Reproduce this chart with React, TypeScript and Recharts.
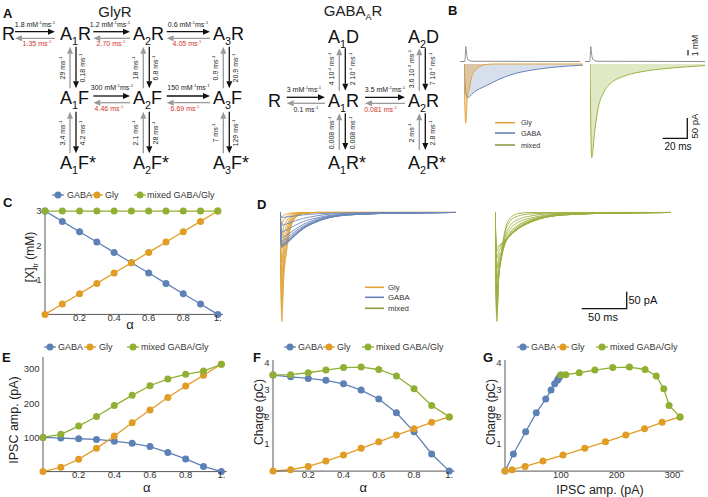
import React from 'react';
import { LineChart, Line, XAxis, YAxis, AreaChart, Area, ScatterChart, Scatter } from 'recharts';

const FONT = '"Liberation Sans", Arial, Helvetica, sans-serif';
const GABA = '#5E81B5';
const GLY = '#E19C24';
const MIX = '#8FB032';
const AXIS = '#555';
const RED = '#d0342c';

// alpha grid shared by C, E, F
const alpha = [0, 0.1, 0.2, 0.3, 0.4, 0.5, 0.6, 0.7, 0.8, 0.9, 1];

// C: transmitter concentration [X]tr (mM)
const concGaba = [3, 2.7, 2.4, 2.1, 1.8, 1.5, 1.2, 0.9, 0.6, 0.3, 0];
const concGly = [0, 0.3, 0.6, 0.9, 1.2, 1.5, 1.8, 2.1, 2.4, 2.7, 3];
const concMixed = [3, 3, 3, 3, 3, 3, 3, 3, 3, 3, 3];

// E: IPSC amplitude (pA)
const ampGaba = [100, 98, 96, 94, 89, 82.5, 73, 56, 37, 15, 0];
const ampGly = [0, 12.6, 36, 68, 104, 143, 180, 216.5, 250, 281.5, 313.6];
const ampMixed = [100, 109, 133, 161, 193, 223, 251, 271, 284.5, 294, 313.6];

// F: charge (pC)
const chargeGaba = [3.545, 3.48, 3.42, 3.35, 3.22, 2.99, 2.66, 2.15, 1.45, 0.63, 0];
const chargeGly = [0, 0.05, 0.17, 0.37, 0.59, 0.84, 1.08, 1.33, 1.56, 1.8, 2.0];
const chargeMixed = [3.545, 3.56, 3.63, 3.73, 3.82, 3.84, 3.75, 3.51, 3.04, 2.42, 2.0];

// B: example currents (ms, pA) and transmitter transient (mM)
const tB = [0, 1.4, 2.8, 4.75, 6.1, 8.9, 13, 18.7, 28, 40, 55, 75, 99];
const glyB = [0, -148, -85, -57, -35, -18, -7, -1, 0, 0, 0, 0, 0];
const gabaB = [0, -68, -85, -81, -77, -69, -62, -54, -40, -26, -16, -8, -3];
const tBmix = [0, 1.4, 4.2, 6.9, 11, 16.7, 27.8, 41.7, 61, 80.6, 96];
const mixedB = [0, -234, -161, -109, -73, -50, -31, -20, -12, -7, -4];
const tConc = [-4, 0, 0.4, 0.8, 1.2, 1.8, 3, 6, 96];
const concTrace = [0, 0, 1.2, 3.0, 2.2, 1.0, 0.3, 0.05, 0];

// D: currents for alpha = 0..1 (ms, pA)
const tD = [0, 2, 4, 7, 11, 17, 26, 40, 60, 90, 130, 195];
const gabaD = [
  [0, -100, -96, -90, -81, -66, -47, -28, -12, -5, -2, 0],
  [0, -98, -94, -88, -79, -65, -46, -27, -12, -5, -2, 0],
  [0, -96, -92, -86, -78, -63, -45, -27, -12, -5, -2, 0],
  [0, -94, -90, -85, -76, -62, -44, -26, -11, -5, -2, 0],
  [0, -89, -85, -80, -72, -59, -42, -25, -11, -4, -2, 0],
  [0, -82, -79, -74, -66, -54, -39, -23, -10, -4, -2, 0],
  [0, -73, -70, -66, -59, -48, -34, -20, -9, -4, -1, 0],
  [0, -56, -54, -50, -45, -37, -26, -16, -7, -3, -1, 0],
  [0, -37, -36, -33, -30, -24, -17, -10, -4, -2, -1, 0],
  [0, -15, -14, -13, -12, -10, -7, -4, -2, -1, 0, 0],
];
const glyD = [
  [0, -13, -8, -5, -2, -1, 0, 0, 0, 0, 0, 0],
  [0, -36, -22, -14, -6, -2, 0, 0, 0, 0, 0, 0],
  [0, -68, -42, -26, -12, -3, -1, 0, 0, 0, 0, 0],
  [0, -104, -64, -40, -18, -5, -1, 0, 0, 0, 0, 0],
  [0, -143, -89, -54, -24, -7, -1, 0, 0, 0, 0, 0],
  [0, -180, -112, -68, -31, -9, -2, 0, 0, 0, 0, 0],
  [0, -216, -134, -82, -37, -11, -2, 0, 0, 0, 0, 0],
  [0, -250, -155, -95, -43, -13, -3, 0, 0, 0, 0, 0],
  [0, -281, -174, -107, -48, -14, -3, 0, 0, 0, 0, 0],
  [0, -314, -195, -119, -53, -16, -3, 0, 0, 0, 0, 0],
];
const mixedD = [
  [0, -100, -96, -90, -81, -66, -47, -28, -12, -5, -2, 0],
  [0, -111, -102, -93, -81, -66, -46, -27, -12, -5, -2, 0],
  [0, -132, -114, -100, -84, -65, -45, -27, -12, -5, -2, 0],
  [0, -162, -132, -111, -88, -65, -45, -26, -11, -5, -2, 0],
  [0, -193, -149, -120, -90, -64, -43, -25, -11, -4, -2, 0],
  [0, -225, -168, -128, -90, -61, -40, -23, -10, -4, -2, 0],
  [0, -253, -182, -134, -90, -57, -36, -20, -9, -4, -1, 0],
  [0, -272, -188, -132, -82, -48, -28, -16, -7, -3, -1, 0],
  [0, -287, -191, -128, -73, -37, -20, -10, -4, -2, -1, 0],
  [0, -296, -188, -120, -60, -24, -10, -4, -2, -1, 0, 0],
  [0, -314, -195, -119, -53, -16, -3, 0, 0, 0, 0, 0],
];

const tickStyle = { fontSize: 9.5, fill: '#333', fontFamily: FONT };
const fmtAlpha = (v: number) => (v === 1 ? '1.' : String(v));

const Abs = ({ left, top, children }: any) => (
  <div style={{ position: 'absolute', left, top }}>{children}</div>
);

const dotOf = (c: string) => ({ r: 3.5, fill: c, stroke: c, strokeWidth: 0 });

// plot area given in page px; axes sit in the margins
function AlphaPlot({ left, top, plotW, plotH, xMax, yMax, yTicks, gaba, gly, mixed }: any) {
  const rows = alpha.map((a, i) => ({ a, gaba: gaba[i], gly: gly[i], mixed: mixed[i] }));
  const yw = 40, xh = 16, mt = 6, mr = 8;
  return (
    <Abs left={left - yw} top={top - mt}>
      <LineChart width={yw + plotW + mr} height={mt + plotH + xh} data={rows} margin={{ top: mt, right: mr, left: 0, bottom: 0 }}>
        <XAxis dataKey="a" type="number" domain={[0, xMax]} ticks={[0.2, 0.4, 0.6, 0.8, 1]} interval={0}
          tickFormatter={fmtAlpha} height={xh} tickLine={false} tickSize={0} tickMargin={0} stroke={AXIS} tick={tickStyle} />
        <YAxis type="number" domain={[0, yMax]} ticks={yTicks} interval={0} width={yw}
          tickLine={false} tickSize={2} tickMargin={1.5} stroke={AXIS} tick={tickStyle} />
        <Line dataKey="gaba" stroke={GABA} strokeWidth={1.3} dot={dotOf(GABA)} isAnimationActive={false} />
        <Line dataKey="gly" stroke={GLY} strokeWidth={1.3} dot={dotOf(GLY)} isAnimationActive={false} />
        <Line dataKey="mixed" stroke={MIX} strokeWidth={1.3} dot={dotOf(MIX)} isAnimationActive={false} />
      </LineChart>
    </Abs>
  );
}

function ChargeVsAmp() {
  const pts = (xs: number[], ys: number[]) => xs.map((x, i) => ({ x, y: ys[i] }));
  const yw = 40, xh = 16, mt = 6, mr = 8;
  const left = 504.9, top = 359.9, plotW = 178.6, plotH = 111.1;
  const shape = (c: string) => (p: any) => <circle cx={p.cx} cy={p.cy} r={3.5} fill={c} />;
  return (
    <Abs left={left - yw} top={top - mt}>
      <ScatterChart width={yw + plotW + mr} height={mt + plotH + xh} margin={{ top: mt, right: mr, left: 0, bottom: 0 }}>
        <XAxis dataKey="x" type="number" domain={[0, 320]} ticks={[100, 200, 300]} interval={0} height={xh}
          tickLine={false} tickSize={0} tickMargin={0} stroke={AXIS} tick={tickStyle} />
        <YAxis dataKey="y" type="number" domain={[0, 4.1]} ticks={[1, 2, 3, 4]} interval={0} width={yw}
          tickLine={false} tickSize={2} tickMargin={1.5} stroke={AXIS} tick={tickStyle} />
        <Scatter data={pts(ampGaba, chargeGaba)} fill={GABA} line={{ stroke: GABA, strokeWidth: 1.3 }} shape={shape(GABA)} isAnimationActive={false} />
        <Scatter data={pts(ampGly, chargeGly)} fill={GLY} line={{ stroke: GLY, strokeWidth: 1.3 }} shape={shape(GLY)} isAnimationActive={false} />
        <Scatter data={pts(ampMixed, chargeMixed)} fill={MIX} line={{ stroke: MIX, strokeWidth: 1.3 }} shape={shape(MIX)} isAnimationActive={false} />
      </ScatterChart>
    </Abs>
  );
}

// B: 1.2 px/ms, 0.4 px/pA, baseline at y=64.3
function TracesB() {
  const rowsL = tB.map((t, i) => ({ t, gly: glyB[i], gaba: gabaB[i] }));
  const rowsR = tBmix.map((t, i) => ({ t, mixed: mixedB[i] }));
  const rowsC = tConc.map((t, i) => ({ t, c: concTrace[i] }));
  const conc = (left: number) => (
    <Abs left={left} top={44.2}>
      <LineChart width={120} height={17.5} data={rowsC} margin={{ top: 0, right: 0, left: 0, bottom: 0 }}>
        <XAxis dataKey="t" type="number" domain={[-4, 96]} hide />
        <YAxis type="number" domain={[0, 3.5]} hide />
        <Line dataKey="c" type="monotone" stroke="#8c8c8c" strokeWidth={1} dot={false} isAnimationActive={false} />
      </LineChart>
    </Abs>
  );
  return (
    <>
      {conc(459.5)}
      {conc(585.2)}
      <Abs left={464.3} top={56.3}>
        <AreaChart width={118.8} height={108} data={rowsL} margin={{ top: 0, right: 0, left: 0, bottom: 0 }}>
          <XAxis dataKey="t" type="number" domain={[0, 99]} hide />
          <YAxis type="number" domain={[-250, 20]} hide />
          <Area dataKey="gaba" type="monotone" baseValue={0} stroke="#6883ba" strokeWidth={1} fill={GABA} fillOpacity={0.25} isAnimationActive={false} />
          <Area dataKey="gly" type="monotone" baseValue={0} stroke="#e0a33a" strokeWidth={1} fill={GLY} fillOpacity={0.35} isAnimationActive={false} />
        </AreaChart>
      </Abs>
      <Abs left={590} top={56.3}>
        <AreaChart width={115.2} height={108} data={rowsR} margin={{ top: 0, right: 0, left: 0, bottom: 0 }}>
          <XAxis dataKey="t" type="number" domain={[0, 96]} hide />
          <YAxis type="number" domain={[-250, 20]} hide />
          <Area dataKey="mixed" type="monotone" baseValue={0} stroke="#9bb040" strokeWidth={1} fill={MIX} fillOpacity={0.28} isAnimationActive={false} />
        </AreaChart>
      </Abs>
    </>
  );
}

// D: 0.9 px/ms, 0.347 px/pA, baseline at y=212.7
function TracesD() {
  const rows = tD.map((t, i) => {
    const r: Record<string, number> = { t };
    gabaD.forEach((s, k) => (r['g' + k] = s[i]));
    glyD.forEach((s, k) => (r['y' + k] = s[i]));
    mixedD.forEach((s, k) => (r['m' + k] = s[i]));
    return r;
  });
  const frame = (left: number, lines: React.ReactNode) => (
    <Abs left={left} top={209.2}>
      <LineChart width={175.5} height={114.5} data={rows} margin={{ top: 0, right: 0, left: 0, bottom: 0 }}>
        <XAxis dataKey="t" type="number" domain={[0, 195]} hide />
        <YAxis type="number" domain={[-320, 10]} hide />
        {lines}
      </LineChart>
    </Abs>
  );
  return (
    <>
      {frame(280, [
        ...glyD.map((_, k) => <Line key={'y' + k} dataKey={'y' + k} type="monotone" stroke="#e0a33a" strokeWidth={0.9} dot={false} isAnimationActive={false} />),
        ...gabaD.map((_, k) => <Line key={'g' + k} dataKey={'g' + k} type="monotone" stroke="#6b87ba" strokeWidth={0.9} dot={false} isAnimationActive={false} />),
      ])}
      {frame(495, mixedD.map((_, k) => <Line key={'m' + k} dataKey={'m' + k} type="monotone" stroke="#9bb040" strokeWidth={0.9} dot={false} isAnimationActive={false} />))}
    </>
  );
}

// text with ^{sup} and _{sub} markup
function Rich({ x, y, text, size, color = '#222', anchor = 'middle', rot, weight }: any) {
  const segs = text.split(/(\^\{[^}]*\}|_\{[^}]*\})/).filter(Boolean);
  let cur = 0;
  const spans = segs.map((s: string, i: number) => {
    let off = 0, fs = size, body = s;
    if (s.startsWith('^{')) { off = -size * 0.42; fs = size * 0.62; body = s.slice(2, -1); }
    else if (s.startsWith('_{')) { off = size * 0.28; fs = size * 0.6; body = s.slice(2, -1); }
    const dy = off - cur;
    cur = off;
    return <tspan key={i} dy={dy} fontSize={fs}>{body}</tspan>;
  });
  if (rot) {
    return (
      <text x={x} y={y + size * 0.36} textAnchor="middle" fill={color} fontSize={size} fontWeight={weight}
        transform={`rotate(-90 ${x} ${y})`}>{spans}</text>
    );
  }
  return <text x={x} y={y} textAnchor={anchor} fill={color} fontSize={size} fontWeight={weight}>{spans}</text>;
}

function Arrow({ x1, y1, x2, y2, color }: any) {
  const dx = x2 - x1, dy = y2 - y1, L = Math.hypot(dx, dy);
  const ux = dx / L, uy = dy / L, hl = 7, hw = 3;
  const bx = x2 - ux * hl, by = y2 - uy * hl;
  return (
    <g>
      <line x1={x1} y1={y1} x2={bx} y2={by} stroke={color} strokeWidth={1.3} />
      <polygon points={`${x2},${y2} ${bx - uy * hw},${by + ux * hw} ${bx + uy * hw},${by - ux * hw}`} fill={color} />
    </g>
  );
}

const hPair = (xa: number, xb: number, yBlack: number, yGray: number, k: string) => (
  <g key={k}>
    <Arrow x1={xa} y1={yBlack} x2={xb} y2={yBlack} color="#111" />
    <Arrow x1={xb} y1={yGray} x2={xa} y2={yGray} color="#999" />
  </g>
);
const vPair = (xg: number, xb: number, ya: number, yb: number, k: string) => (
  <g key={k}>
    <Arrow x1={xg} y1={yb} x2={xg} y2={ya} color="#999" />
    <Arrow x1={xb} y1={ya} x2={xb} y2={yb} color="#111" />
  </g>
);

const glyStates = [
  [2, 40, 'R'], [60, 40, 'A_{1}R'], [133, 40, 'A_{2}R'], [213, 40, 'A_{3}R'],
  [60, 104, 'A_{1}F'], [133, 104, 'A_{2}F'], [213, 104, 'A_{3}F'],
  [60, 169, 'A_{1}F*'], [133, 169, 'A_{2}F*'], [213, 169, 'A_{3}F*'],
];
const gabaStates = [
  [328, 42.5, 'A_{1}D'], [408, 42.5, 'A_{2}D'],
  [268, 106.5, 'R'], [328, 106.5, 'A_{1}R'], [408, 106.5, 'A_{2}R'],
  [328, 168.5, 'A_{1}R*'], [408, 168.5, 'A_{2}R*'],
];
const hRates = [
  [35, 26.5, '1.8 mM^{-1}ms^{-1}', '#222'], [110, 26.5, '1.2 mM^{-1}ms^{-1}', '#222'], [188, 26.5, '0.6 mM^{-1}ms^{-1}', '#222'],
  [37, 45.5, '1.35 ms^{-1}', RED], [111, 45.5, '2.70 ms^{-1}', RED], [187, 45.5, '4.05 ms^{-1}', RED],
  [112, 90, '300 mM^{-1}ms^{-1}', '#222'], [188.5, 90, '150 mM^{-1}ms^{-1}', '#222'],
  [109, 111, '4.46 ms^{-1}', RED], [185, 111, '6.69 ms^{-1}', RED],
  [304, 91.7, '3 mM^{-1}ms^{-1}', '#222'], [385, 91.7, '3.5 mM^{-1}ms^{-1}', '#222'],
  [306, 112.3, '0.1 ms^{-1}', '#222'], [380.5, 112.3, '0.081 ms^{-1}', RED],
];
const vRates = [
  [62, 68, '29 ms^{-1}'], [82.5, 68, '0.18 ms^{-1}'], [135.3, 68, '18 ms^{-1}'], [155.8, 68, '6.8 ms^{-1}'],
  [215.3, 68, '0.9 ms^{-1}'], [235.8, 68, '20.9 ms^{-1}'],
  [62, 133, '3.4 ms^{-1}'], [82.5, 133, '4.2 ms^{-1}'], [135.3, 133, '2.1 ms^{-1}'], [155.8, 133, '28 ms^{-1}'],
  [215.3, 133, '7 ms^{-1}'], [235.8, 133, '129 ms^{-1}'],
  [331.8, 69, '4 10^{-4} ms^{-1}'], [352.8, 69, '2 10^{-4} ms^{-1}'], [411.8, 69, '3.6 10^{-3} ms^{-1}'], [432.8, 69, '7 10^{-4} ms^{-1}'],
  [331.8, 133, '0.008 ms^{-1}'], [352.8, 133, '0.008 ms^{-1}'], [411.8, 133, '2 ms^{-1}'], [432.8, 133, '2.8 ms^{-1}'],
];

const seriesNames = ['GABA', 'Gly', 'mixed GABA/Gly'];
const seriesColors = [GABA, GLY, MIX];

function MarkerLegend({ y, marks, texts }: any) {
  return (
    <g>
      {marks.map((m: number, i: number) => (
        <g key={i}>
          <line x1={m - 6} x2={m + 6} y1={y} y2={y} stroke={seriesColors[i]} strokeWidth={1.3} />
          <circle cx={m} cy={y} r={3.5} fill={seriesColors[i]} />
          <text x={texts[i]} y={y + 3.2} fontSize={9} fill="#333">{seriesNames[i]}</text>
        </g>
      ))}
    </g>
  );
}

const traceNames = ['Gly', 'GABA', 'mixed'];
const traceColors = ['#e0a33a', '#6883ba', '#8c9c45'];

function TraceLegend({ x1, x2, tx, ys, size }: any) {
  return (
    <g>
      {ys.map((y: number, i: number) => (
        <g key={i}>
          <line x1={x1} x2={x2} y1={y} y2={y} stroke={traceColors[i]} strokeWidth={1.6} />
          <text x={tx} y={y + size * 0.36} fontSize={size} fill="#333">{traceNames[i]}</text>
        </g>
      ))}
    </g>
  );
}

function Overlay() {
  return (
    <svg width={708} height={497} style={{ position: 'absolute', left: 0, top: 0, pointerEvents: 'none', fontFamily: FONT }}>
      {/* panel letters */}
      {[['A', 3, 17.5], ['B', 448, 15], ['C', 3, 206.5], ['D', 257, 209], ['E', 2, 361.5], ['F', 253, 361.5], ['G', 483, 361.5]].map(([l, x, y]: any) => (
        <text key={l} x={x} y={y} fontSize={13} fontWeight="bold" fill="#111">{l}</text>
      ))}

      {/* A: kinetic schemes */}
      <Rich x={115} y={17} text="GlyR" size={15} />
      <Rich x={353} y={16} text="GABA_{A}R" size={15} />
      {glyStates.concat(gabaStates).map(([x, y, t]: any, i: number) => (
        <Rich key={'s' + i} x={x} y={y} text={t} size={18} anchor="start" color="#111" />
      ))}
      {hPair(15, 55, 31.7, 38.3, 'h1')}
      {hPair(93.3, 130, 31.7, 38.3, 'h2')}
      {hPair(166.7, 210, 31.7, 38.3, 'h3')}
      {hPair(93.3, 130, 96, 102.7, 'h4')}
      {hPair(166.7, 210, 96, 102.7, 'h5')}
      {hPair(286.7, 325, 97.3, 103.3, 'h6')}
      {hPair(365, 405, 97.3, 103.3, 'h7')}
      {vPair(70, 76, 46.7, 88.3, 'v1')}
      {vPair(143.3, 149.3, 46.7, 88.3, 'v2')}
      {vPair(223.3, 229.3, 46.7, 88.3, 'v3')}
      {vPair(70, 76, 111.7, 153.3, 'v4')}
      {vPair(143.3, 149.3, 111.7, 153.3, 'v5')}
      {vPair(223.3, 229.3, 111.7, 153.3, 'v6')}
      {vPair(339.3, 345.3, 48.3, 90.7, 'v7')}
      {vPair(419.3, 425.3, 48.3, 90.7, 'v8')}
      {vPair(339.3, 345.3, 113.3, 150, 'v9')}
      {vPair(419.3, 425.3, 113.3, 150, 'v10')}
      {hRates.map(([x, y, t, c]: any, i: number) => <Rich key={'hr' + i} x={x} y={y} text={t} size={7} color={c} />)}
      {vRates.map(([x, y, t]: any, i: number) => <Rich key={'vr' + i} x={x} y={y} text={t} size={7} rot />)}

      {/* B: legend and scale bars */}
      <TraceLegend x1={495} x2={515} tx={521} ys={[122.7, 133, 145]} size={7.2} />
      <line x1={688} x2={688} y1={50} y2={55.5} stroke="#111" strokeWidth={1.2} />
      <Rich x={695} y={45.5} text="1 mM" size={8.5} rot />
      <polyline points="662.7,138.3 687.3,138.3 687.3,118" fill="none" stroke="#111" strokeWidth={1.3} />
      <Rich x={694.5} y={126} text="50 pA" size={9.5} rot />
      <text x={678} y={149.5} fontSize={10} textAnchor="middle" fill="#111">20 ms</text>

      {/* D: legend and scale bars */}
      <TraceLegend x1={365} x2={384} tx={388} ys={[287.3, 297.3, 308.3]} size={7.8} />
      <polyline points="581.7,308.6 626.7,308.6 626.7,291.7" fill="none" stroke="#111" strokeWidth={1.3} />
      <text x={628.5} y={304} fontSize={11} fill="#111">50 pA</text>
      <text x={603} y={320.5} fontSize={11} textAnchor="middle" fill="#111">50 ms</text>

      {/* C, E, F, G legends */}
      <MarkerLegend y={195} marks={[58, 97, 140]} texts={[67, 105, 147]} />
      <MarkerLegend y={347} marks={[50, 90, 133]} texts={[58, 99, 141]} />
      <MarkerLegend y={347} marks={[290, 329, 368]} texts={[298, 337, 376]} />
      <MarkerLegend y={347} marks={[523, 563, 602]} texts={[531, 571, 610]} />

      {/* axis titles */}
      <Rich x={30} y={257} text="[X]_{tr} (mM)" size={12} rot color="#222" />
      <text x={130} y={329} fontSize={13} textAnchor="middle" fill="#222">α</text>
      <Rich x={13} y={420} text="IPSC amp. (pA)" size={12.5} rot color="#222" />
      <text x={146.7} y={492} fontSize={13} textAnchor="middle" fill="#222">α</text>
      <Rich x={259} y={412} text="Charge (pC)" size={12} rot color="#222" />
      <text x={363.3} y={492} fontSize={13} textAnchor="middle" fill="#222">α</text>
      <Rich x={491} y={412} text="Charge (pC)" size={12} rot color="#222" />
      <text x={600} y={493.5} fontSize={12.5} textAnchor="middle" fill="#222">IPSC amp. (pA)</text>
    </svg>
  );
}

export default function App() {
  return (
    <div style={{ position: 'absolute', left: 0, top: 0, width: 708, height: 497, background: '#fff', fontFamily: FONT, overflow: 'hidden' }}>
      <TracesB />
      <TracesD />
      <AlphaPlot left={44.5} top={208.6} plotW={178} plotH={105.4} xMax={1.03} yMax={3.06} yTicks={[1, 2, 3]}
        gaba={concGaba} gly={concGly} mixed={concMixed} />
      <AlphaPlot left={43.3} top={357.1} plotW={183.7} plotH={114.6} xMax={1.03} yMax={335} yTicks={[100, 200, 300]}
        gaba={ampGaba} gly={ampGly} mixed={ampMixed} />
      <AlphaPlot left={273} top={359.9} plotW={181.6} plotH={111.1} xMax={1.03} yMax={4.1} yTicks={[1, 2, 3, 4]}
        gaba={chargeGaba} gly={chargeGly} mixed={chargeMixed} />
      <ChargeVsAmp />
      <Overlay />
    </div>
  );
}
